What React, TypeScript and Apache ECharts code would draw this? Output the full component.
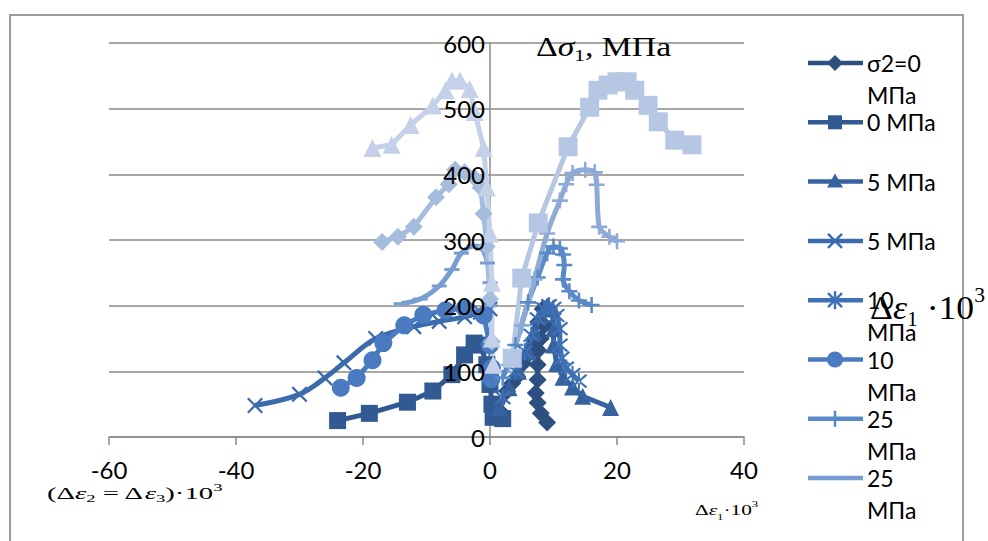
import React, { useEffect, useRef } from "react";
import * as echarts from "echarts";

// ---- data ----
const xTickValues = [-60, -40, -20, 0, 20, 40];
const yTickValues = [0, 100, 200, 300, 400, 500, 600];

const sigma0Right = [[1.5, 40], [2.7, 70], [3.5, 82], [4.3, 92], [5.2, 112], [6.3, 128], [7, 150], [7.6, 175], [8.3, 195], [8.6, 170], [8, 150], [7.6, 132], [7.5, 110], [7.5, 87], [7.2, 67], [7.5, 52], [8, 36], [9, 22]];
const p0Left = [[-24, 25], [-19, 36], [-13, 53], [-9, 70], [-6, 95], [-4, 125], [-2.5, 143], [-1.5, 140], [-0.5, 110], [0, 80], [0.3, 50], [0.5, 30], [2, 28]];
const p5Right = [[1.5, 45], [3, 75], [4.5, 100], [6, 130], [7, 160], [8, 185], [9, 200], [9.8, 195], [10, 165], [10, 140], [10.5, 112], [11.5, 91], [13, 76], [14.6, 62], [19, 45]];
const p5Left = [[-37, 48], [-30, 65], [-26, 90], [-23, 113], [-18, 150], [-12, 168], [-8, 176], [-4, 183], [-1.5, 190], [0, 195]];
const p10Right = [[2, 60], [4, 100], [5.5, 130], [6.5, 155], [7.5, 180], [8.5, 195], [9.3, 200], [10, 196], [10.5, 185], [11, 165], [11, 140], [11.3, 120], [12, 105], [13, 95], [14, 85]];
const p10Left = [[-23.5, 75], [-21, 90], [-18.5, 117], [-16.8, 143], [-13.5, 170], [-10.5, 186], [-7, 193], [-4, 196], [-1, 185], [0, 140], [0.3, 105], [0.2, 88]];
const p25Right = [[2, 90], [4, 140], [6, 205], [7.5, 243], [9, 280], [10, 290], [11, 287], [11.5, 278], [11.7, 262], [11.5, 240], [12.5, 222], [14, 208], [16, 201]];
const p25Left = [[-14, 203], [-11, 210], [-8, 230], [-6, 255], [-4.5, 280], [-2.5, 291], [-1.2, 286], [-0.4, 265], [0, 235], [0, 200]];
const p50Right = [[3, 110], [5, 170], [7, 240], [9, 310], [11, 360], [12, 385], [13, 402], [15, 407], [16.5, 403], [16.8, 384], [17.2, 320], [18.8, 305], [20, 298]];
const p50Left = [[-17, 297], [-14.5, 305], [-12, 320], [-8.5, 365], [-6.5, 385], [-5.5, 407], [-4, 403], [-2.5, 395], [-1.5, 380], [-1, 340], [-0.5, 290], [0, 210], [0.3, 145]];
const p75Right = [[3.5, 120], [5, 242], [7.6, 326], [12.3, 442], [15.7, 502], [17, 528], [18.6, 536], [20, 541], [21.6, 541], [22.8, 528], [24.9, 505], [26.5, 480], [29.1, 452], [31.8, 445]];
const p75Left = [[-18.5, 440], [-15.5, 445], [-12.5, 475], [-9, 505], [-7, 528], [-6, 543], [-4.7, 543], [-3.2, 530], [-2.4, 495], [-1, 440], [-0.5, 380], [0, 310], [0.3, 235], [0.3, 150], [0.5, 110]];

const legendLabels = ["σ2=0\nМПа", "0 МПа", "5 МПа", "5 МПа", "10\nМПа", "10\nМПа", "25\nМПа", "25\nМПа"];

const CROSS = "path://M1,0 L5,4 L9,0 L10,1 L6,5 L10,9 L9,10 L5,6 L1,10 L0,9 L4,5 L0,1 Z";
const ASTER = "path://M1,0 L5,4 L9,0 L10,1 L6,5 L10,9 L9,10 L5,6 L1,10 L0,9 L4,5 L0,1 Z M4.4,-1 L4.4,11 L5.6,11 L5.6,-1 Z";
const PLUS = "path://M4.2,0 H5.8 V4.2 H10 V5.8 H5.8 V10 H4.2 V5.8 H0 V4.2 H4.2 Z";

type Spec = { name: string; data: number[][]; symbol: string; size: any; color: string; smooth?: boolean; legend?: string };
const specs: Spec[] = [
  { name: "s1", data: sigma0Right, symbol: "diamond", size: 18, color: "#2c4f80", legend: "diamond" },
  { name: "s2", data: p0Left, symbol: "rect", size: 17, color: "#315a92", legend: "square" },
  { name: "s3", data: p5Right, symbol: "triangle", size: 17, color: "#36629f", legend: "triangle" },
  { name: "s4", data: p5Left, symbol: CROSS, size: 16, color: "#3b6bad", smooth: true, legend: "cross" },
  { name: "s5", data: p10Right, symbol: ASTER, size: 17, color: "#3f71b6", legend: "aster" },
  { name: "s6", data: p10Left, symbol: "circle", size: 18, color: "#4a7bc0", legend: "circle" },
  { name: "s7", data: p25Right, symbol: PLUS, size: 16, color: "#5a89c8", smooth: true, legend: "plus" },
  { name: "s8", data: p25Left, symbol: "rect", size: [15, 3], color: "#779ed3", smooth: true, legend: "none" },
  { name: "s9", data: p50Right, symbol: PLUS, size: 16, color: "#8eaad7", smooth: true },
  { name: "s10", data: p50Left, symbol: "diamond", size: 18, color: "#a6bcdd" },
  { name: "s11", data: p75Right, symbol: "rect", size: 19, color: "#b6c7e3" },
  { name: "s12", data: p75Left, symbol: "triangle", size: 18, color: "#c4d1e8" },
];

function legendMarker(kind: string, cx: number, cy: number, color: string): any[] {
  const ls = { stroke: color, lineWidth: 2.5 };
  switch (kind) {
    case "diamond":
      return [{ type: "polygon", shape: { points: [[cx, cy - 8], [cx + 8, cy], [cx, cy + 8], [cx - 8, cy]] }, style: { fill: color } }];
    case "square":
      return [{ type: "rect", shape: { x: cx - 7, y: cy - 7, width: 14, height: 14 }, style: { fill: color } }];
    case "triangle":
      return [{ type: "polygon", shape: { points: [[cx, cy - 8], [cx + 8, cy + 6], [cx - 8, cy + 6]] }, style: { fill: color } }];
    case "cross":
      return [
        { type: "line", shape: { x1: cx - 7, y1: cy - 7, x2: cx + 7, y2: cy + 7 }, style: ls },
        { type: "line", shape: { x1: cx - 7, y1: cy + 7, x2: cx + 7, y2: cy - 7 }, style: ls },
      ];
    case "aster":
      return [
        { type: "line", shape: { x1: cx - 7, y1: cy - 7, x2: cx + 7, y2: cy + 7 }, style: ls },
        { type: "line", shape: { x1: cx - 7, y1: cy + 7, x2: cx + 7, y2: cy - 7 }, style: ls },
        { type: "line", shape: { x1: cx, y1: cy - 9, x2: cx, y2: cy + 9 }, style: ls },
      ];
    case "circle":
      return [{ type: "circle", shape: { cx, cy, r: 8 }, style: { fill: color } }];
    case "plus":
      return [{ type: "line", shape: { x1: cx, y1: cy - 8, x2: cx, y2: cy + 8 }, style: ls }];
    default:
      return [];
  }
}

function mathText(x: number, y: number, text: string, big: number, small: number, lh: number, scaleX: number) {
  const serif = "'Liberation Serif', 'Times New Roman', serif";
  return {
    type: "text", z: 12, x, y, scaleX,
    style: {
      text, verticalAlign: "middle", align: "left",
      rich: {
        n: { fontSize: big, fontFamily: serif, fill: "#000", lineHeight: lh, verticalAlign: "middle" },
        i: { fontSize: big, fontFamily: serif, fontStyle: "italic", fill: "#000", lineHeight: lh, verticalAlign: "middle" },
        s: { fontSize: small, fontFamily: serif, fill: "#000", lineHeight: lh, verticalAlign: "bottom" },
        p: { fontSize: small, fontFamily: serif, fill: "#000", lineHeight: lh, verticalAlign: "top" },
      },
    },
  };
}

export default function App() {
  const ref = useRef<HTMLDivElement>(null);
  useEffect(() => {
    if (!ref.current) return;
    const chart = echarts.init(ref.current, null, { renderer: "svg" });
    const axisFont = "Lato";
    const graphics: any[] = [
      { type: "rect", z: 0, shape: { x: 10, y: 15, width: 953, height: 545 }, style: { fill: "none", stroke: "#9d9d9d", lineWidth: 2 } },
    ];
    specs.forEach((s, i) => {
      if (!s.legend) return;
      const y = 63 + i * 59.3;
      graphics.push({ type: "line", z: 10, shape: { x1: 808, y1: y, x2: 863, y2: y }, style: { stroke: s.color, lineWidth: 4.5 } });
      legendMarker(s.legend, 835, y, s.color).forEach((g) => graphics.push({ ...g, z: 11 }));
      graphics.push({
        type: "text", z: 12, x: 867, y: y - 16,
        style: { text: legendLabels[i], fontSize: 23, fontFamily: axisFont, fill: "#000", lineHeight: 32, verticalAlign: "top", align: "left" },
      });
    });
    graphics.push(mathText(536, 47, "{n|Δ}{i|σ}{s|1}{n|, МПа}", 27, 17, 34, 1.25));
    graphics.push(mathText(870, 307, "{n|Δ}{i|ε}{s|1}{n| ·10}{p|3}", 33, 20, 44, 1.08));
    graphics.push(mathText(47, 493, "{n|(Δ}{i|ε}{s|2}{n| = Δ}{i|ε}{s|3}{n|)·10}{p|3}", 17, 11, 22, 1.69));
    graphics.push(mathText(695, 510, "{n|Δ}{i|ε}{s|1}{n|·10}{p|3}", 15, 9, 22, 1.42));

    const yMin = yTickValues[0];
    const yMax = yTickValues[yTickValues.length - 1];
    chart.setOption({
      animation: false,
      backgroundColor: "#ffffff",
      grid: { left: 109, right: 244, top: 43, bottom: 104, containLabel: false, outerBoundsMode: "none" } as any,
      xAxis: {
        type: "value", min: xTickValues[0], max: xTickValues[xTickValues.length - 1], interval: 20,
        axisLine: { onZero: true, lineStyle: { color: "#8a8a8a", width: 1.5 } },
        axisTick: { show: true, inside: false, length: 8, lineStyle: { color: "#8a8a8a", width: 1.5 } },
        axisLabel: { margin: 20, fontSize: 24, fontFamily: axisFont, color: "#000" },
        splitLine: { show: false },
      },
      yAxis: [
        {
          type: "value", min: yMin, max: yMax, interval: 100,
          offset: -381,
          axisLine: { show: true, onZero: false, lineStyle: { color: "#8a8a8a", width: 1.5 } },
          axisTick: { show: false },
          axisLabel: { show: false },
          splitLine: { show: true, lineStyle: { color: "#8a8a8a", width: 1.5 } },
        },
        {
          type: "value", min: yMin, max: yMax, interval: 100, position: "left",
          offset: -381, z: 20,
          axisLine: { show: false, onZero: false },
          axisTick: { show: false },
          axisLabel: { margin: 5, fontSize: 24, fontFamily: axisFont, color: "#000" },
          splitLine: { show: false },
        },
      ],
      graphic: graphics,
      series: specs.map((s) => ({
        type: "line",
        name: s.name,
        data: s.data,
        yAxisIndex: 0,
        symbol: s.symbol,
        symbolSize: s.size,
        showAllSymbol: true,
        smooth: s.smooth ? 0.35 : false,
        lineStyle: { color: s.color, width: 5 },
        itemStyle: { color: s.color, opacity: 1 },
        emphasis: { disabled: true },
        silent: true,
      })),
    });
    return () => chart.dispose();
  }, []);
  return <div ref={ref} style={{ position: "fixed", left: 0, top: 0, width: 988, height: 541, background: "#fff" }} />;
}
